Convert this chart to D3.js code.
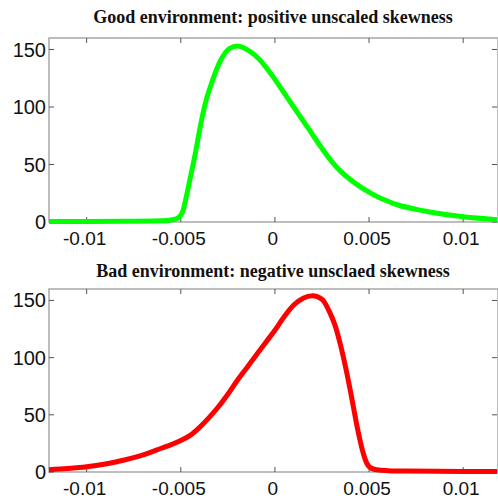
<!DOCTYPE html>
<html>
<head>
<meta charset="utf-8">
<script src="https://cdn.jsdelivr.net/npm/d3@7"></script>
<style>
  body { margin: 0; background: #fff; }
  svg { display: block; }
</style>
</head>
<body>
<div id="svgcontainer"></div>
<script>
// --- Data ---
var x_ticks = [-0.01, -0.005, 0, 0.005, 0.01];
var x_tick_labels = ["-0.01", "-0.005", "0", "0.005", "0.01"];
var y_ticks = [0, 50, 100, 150];
var y_tick_labels = ["0", "50", "100", "150"];

var good_title = "Good environment: positive unscaled skewness";
var bad_title = "Bad environment: negative unsclaed skewness";

// Good environment (green)
var good_x = [-0.012, -0.008, -0.006, -0.0055, -0.0053, -0.0051, -0.005, -0.0049, -0.00476, -0.0045,
              -0.0042, -0.004, -0.0037, -0.0034, -0.0029, -0.0024, -0.002, -0.0013, -0.0008, -0.0004,
              0, 0.0005, 0.001, 0.0015, 0.002, 0.0025, 0.003, 0.0035, 0.004, 0.0045,
              0.005, 0.0055, 0.006, 0.0065, 0.0075, 0.0083, 0.01, 0.0118];
var good_y = [0.5, 0.6, 1, 1.8, 2.5, 4, 6, 9, 18, 38,
              62, 80, 103, 119, 140, 151, 153, 148, 141, 133,
              124, 112, 100, 88, 76, 64, 53, 44, 37, 31,
              26, 21.5, 18, 15, 11, 8.5, 4.5, 2];

// Bad environment (red)
var bad_x = [-0.012, -0.011, -0.01, -0.009, -0.008, -0.007, -0.006, -0.0055, -0.005, -0.0045,
             -0.004, -0.0035, -0.003, -0.0025, -0.002, -0.0015, -0.001, -0.0005, 0, 0.0005,
             0.001, 0.0015, 0.002, 0.0025, 0.0029, 0.0032, 0.0035, 0.0038, 0.0041, 0.0044,
             0.0047, 0.0049, 0.0051, 0.0054, 0.006, 0.007, 0.0118];
var bad_y = [2, 3, 4.5, 7, 10.5, 15, 21, 24, 27.5, 32,
             39, 47.5, 57, 68, 80, 91, 102, 113, 124, 136,
             146, 152, 154, 151, 140, 128, 110, 88, 63, 37,
             16, 7, 3.5, 2, 1.2, 0.8, 0.4];

var width = 498;
var height = 502;

var box_color = "#a8a8a8";
var tick_color = "#555555";

const svg = d3.select("#svgcontainer").append("svg")
    .attr("width", width).attr("height", height).attr("id", "svg");

// panel: box edges in pixels
drawPanel({left: 49, right: 498, top: 38, bottom: 222}, good_x, good_y, "#00ff00", good_title, 23);
drawPanel({left: 49, right: 498, top: 289, bottom: 472}, bad_x, bad_y, "#ff0000", bad_title, 277);

function drawPanel(box, xs, ys, color, title, title_y){
    var x = d3.scaleLinear().domain([-0.012, 0.01185]).range([box.left, box.right]);
    var y = d3.scaleLinear().domain([0, 160]).range([box.bottom, box.top]);
    var g = svg.append("g");

    // title
    g.append("text")
        .attr("x", (box.left + 497) / 2)
        .attr("y", title_y)
        .attr("text-anchor", "middle")
        .attr("font-family", "Liberation Serif, Times New Roman, serif")
        .attr("font-weight", "bold")
        .attr("font-size", 18)
        .attr("fill", "#111")
        .text(title);

    // box
    g.append("rect")
        .attr("x", box.left).attr("y", box.top)
        .attr("width", box.right - box.left).attr("height", box.bottom - box.top)
        .attr("fill", "none").attr("stroke", box_color).attr("stroke-width", 1.5);

    // inward ticks, bottom and top
    x_ticks.forEach(function(t){
        g.append("line").attr("x1", x(t)).attr("x2", x(t))
            .attr("y1", box.bottom).attr("y2", box.bottom - 5)
            .attr("stroke", tick_color);
        g.append("line").attr("x1", x(t)).attr("x2", x(t))
            .attr("y1", box.top).attr("y2", box.top + 5)
            .attr("stroke", tick_color);
    });
    // inward ticks, left and right
    y_ticks.forEach(function(t){
        g.append("line").attr("x1", box.left).attr("x2", box.left + 5)
            .attr("y1", y(t)).attr("y2", y(t)).attr("stroke", tick_color);
        g.append("line").attr("x1", box.right - 1).attr("x2", box.right - 6)
            .attr("y1", y(t)).attr("y2", y(t)).attr("stroke", tick_color);
    });

    // tick labels
    g.selectAll(".xl").data(x_ticks).enter().append("text")
        .attr("x", function(d){ return x(d) - 2; })
        .attr("y", box.bottom + 23)
        .attr("text-anchor", "middle")
        .attr("font-family", "Liberation Sans, Arial, sans-serif")
        .attr("font-size", 19)
        .attr("fill", "#111")
        .text(function(d, i){ return x_tick_labels[i]; });

    g.selectAll(".yl").data(y_ticks).enter().append("text")
        .attr("x", box.left - 3)
        .attr("y", function(d){ return y(d) + 7; })
        .attr("text-anchor", "end")
        .attr("font-family", "Liberation Sans, Arial, sans-serif")
        .attr("font-size", 20)
        .attr("fill", "#111")
        .text(function(d, i){ return y_tick_labels[i]; });

    // curve
    var pts = xs.map(function(d, i){ return [d, ys[i]]; });
    var line = d3.line()
        .x(function(d){ return x(d[0]); })
        .y(function(d){ return y(d[1]); })
        .curve(d3.curveMonotoneX);
    g.append("path")
        .attr("d", line(pts))
        .attr("fill", "none")
        .attr("stroke", color)
        .attr("stroke-width", 5)
        .attr("stroke-linejoin", "round");
}
</script>
</body>
</html>
